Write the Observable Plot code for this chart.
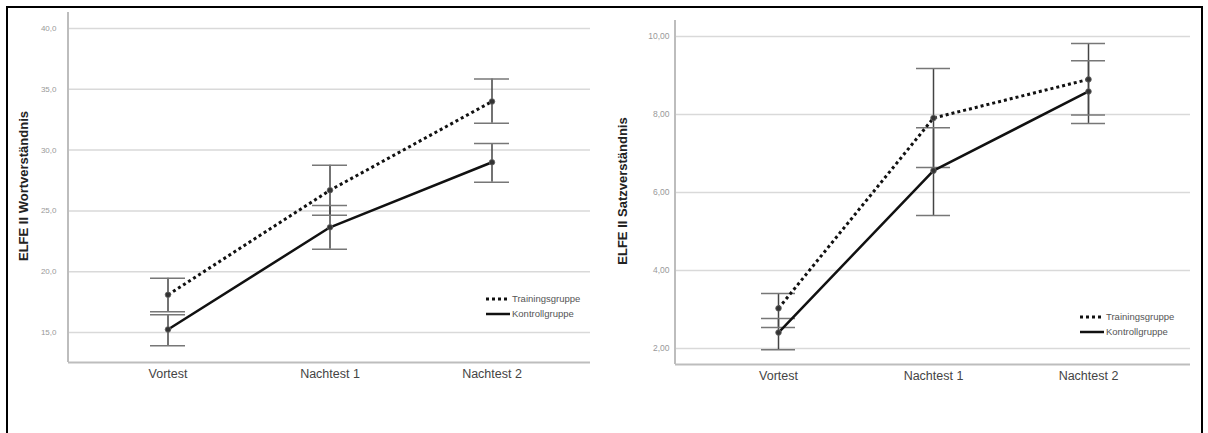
<!DOCTYPE html>
<html>
<head>
<meta charset="utf-8">
<script src="https://cdn.jsdelivr.net/npm/d3@7"></script>
<script src="https://cdn.jsdelivr.net/npm/@observablehq/plot@0.6"></script>
<style>
  html, body { margin: 0; padding: 0; background: #fff; }
  #page { position: relative; width: 1208px; height: 433px; overflow: hidden; font-family: "Liberation Sans", Arial, sans-serif; }
  #border { position: absolute; left: 6px; top: 6px; width: 1197px; height: 440px; border: 2.5px solid #000; box-sizing: border-box; }
  .panel { position: absolute; top: 0; }
  .ylabel { position: absolute; font-weight: bold; font-size: 13px; color: #222; white-space: nowrap; transform: translate(-50%, -50%) rotate(-90deg); }
  .legend { position: absolute; font-size: 9.5px; color: #555; }
  .legend .row { display: flex; align-items: center; height: 15px; }
  .legend svg { margin-right: 2px; }
</style>
</head>
<body>
<div id="page">
  <div id="border"></div>
  <div id="left" class="panel" style="left:0px"></div>
  <div id="right" class="panel" style="left:600px"></div>
  <div class="ylabel" style="left:23px; top:186px">ELFE II Wortverständnis</div>
  <div class="ylabel" style="left:622px; top:191px">ELFE II Satzverständnis</div>
  <div id="legendLeft" class="legend" style="left:486px; top:291px"></div>
  <div id="legendRight" class="legend" style="left:1080px; top:309px"></div>
</div>
<script>
// Messzeitpunkte und Gruppen
const phases = ["Vortest", "Nachtest 1", "Nachtest 2"];
const groups = ["Trainingsgruppe", "Kontrollgruppe"];

// ELFE II Wortverständnis: Mittelwerte mit Fehlerbalken
const wortTraining   = [18.1, 26.7, 34.0];
const wortTrainingLo = [16.7, 24.65, 32.2];
const wortTrainingHi = [19.45, 28.75, 35.85];
const wortKontroll   = [15.25, 23.65, 29.0];
const wortKontrollLo = [13.9, 21.85, 27.35];
const wortKontrollHi = [16.45, 25.45, 30.55];
const wortTicks = [15, 20, 25, 30, 35, 40];

// ELFE II Satzverständnis: Mittelwerte mit Fehlerbalken
const satzTraining   = [3.03, 7.91, 8.90];
const satzTrainingLo = [2.54, 6.64, 7.99];
const satzTrainingHi = [3.41, 9.18, 9.82];
const satzKontroll   = [2.41, 6.56, 8.59];
const satzKontrollLo = [1.97, 5.41, 7.77];
const satzKontrollHi = [2.77, 7.66, 9.38];
const satzTicks = [2, 4, 6, 8, 10];

function buildRows(series) {
  const rows = [];
  series.forEach(([group, mean, lo, hi]) => {
    phases.forEach((phase, i) => rows.push({group, phase, mean: mean[i], lo: lo[i], hi: hi[i]}));
  });
  return rows;
}

const lineStyle = {
  "Trainingsgruppe": {strokeDasharray: "3,3", strokeWidth: 3},
  "Kontrollgruppe": {strokeDasharray: null, strokeWidth: 2.5}
};

function panel(opts) {
  const {rows, ticks, domain, decimals, width, height, marginLeft, marginRight, marginTop, marginBottom,
         paddingInner, paddingOuter, tickFontSize, tickPadding} = opts;
  const fmt = d => d3.format(`.${decimals}f`)(d).replace(".", ",");
  // vertical axis line along the left edge of the frame
  const yAxisLine = () => {
    const line = document.createElementNS("http://www.w3.org/2000/svg", "line");
    line.setAttribute("x1", marginLeft);
    line.setAttribute("x2", marginLeft);
    line.setAttribute("y1", marginTop);
    line.setAttribute("y2", height - marginBottom);
    line.setAttribute("stroke", "#bdbdbd");
    line.setAttribute("stroke-width", 2);
    return line;
  };
  const marks = [
    Plot.ruleY(ticks, {stroke: "#d9d9d9", strokeWidth: 1.5}),
    Plot.ruleY([domain[0]], {stroke: "#bdbdbd", strokeWidth: 2}),
    yAxisLine,
    Plot.ruleX(rows, {x: "phase", y1: "lo", y2: "hi", stroke: "#444", strokeWidth: 1.5}),
    Plot.tickY(rows, {x: "phase", y: "lo", stroke: "#777", strokeWidth: 1.5}),
    Plot.tickY(rows, {x: "phase", y: "hi", stroke: "#777", strokeWidth: 1.5})
  ];
  groups.forEach(g => {
    marks.push(Plot.line(rows.filter(d => d.group === g), {
      x: "phase", y: "mean", stroke: "#111", strokeLinecap: "butt", ...lineStyle[g]
    }));
  });
  marks.push(
    Plot.dot(rows, {x: "phase", y: "mean", r: 2.8, fill: "#333", stroke: "#666", strokeWidth: 0.8}),
    Plot.text(ticks, {y: d => d, text: fmt, frameAnchor: "left", dx: -tickPadding, textAnchor: "end",
                      fill: "#999", fontSize: tickFontSize}),
    Plot.text(phases, {x: d => d, text: d => d, frameAnchor: "bottom", dy: 15,
                       fill: "#444", fontSize: 12.5})
  );
  return Plot.plot({
    width, height, marginLeft, marginRight, marginTop, marginBottom,
    style: {fontFamily: "Liberation Sans, Arial, sans-serif", background: "transparent", overflow: "visible"},
    x: {type: "band", domain: phases, paddingInner, paddingOuter, axis: null},
    y: {domain, axis: null},
    marks
  });
}

document.getElementById("left").append(panel({
  rows: buildRows([
    ["Trainingsgruppe", wortTraining, wortTrainingLo, wortTrainingHi],
    ["Kontrollgruppe", wortKontroll, wortKontrollLo, wortKontrollHi]
  ]),
  ticks: wortTicks, domain: [12.53, 41.32], decimals: 1,
  width: 600, height: 433, marginLeft: 68, marginRight: 10, marginTop: 12, marginBottom: 71,
  paddingInner: 0.784, paddingOuter: 0.503, tickFontSize: 8, tickPadding: 12
}));

document.getElementById("right").append(panel({
  rows: buildRows([
    ["Trainingsgruppe", satzTraining, satzTrainingLo, satzTrainingHi],
    ["Kontrollgruppe", satzKontroll, satzKontrollLo, satzKontrollHi]
  ]),
  ticks: satzTicks, domain: [1.59, 10.41], decimals: 2,
  width: 608, height: 433, marginLeft: 75, marginRight: 18, marginTop: 20, marginBottom: 69,
  paddingInner: 0.781, paddingOuter: 0.546, tickFontSize: 8.5, tickPadding: 6
}));

// Legenden mit Linienmuster je Gruppe
function legend(el) {
  groups.forEach(g => {
    const row = document.createElement("div");
    row.className = "row";
    const s = lineStyle[g];
    row.innerHTML = `<svg width="24" height="6"><line x1="0" x2="24" y1="3" y2="3" stroke="#111"
      stroke-width="${s.strokeWidth}" ${s.strokeDasharray ? `stroke-dasharray="${s.strokeDasharray}"` : ""}/></svg>`;
    const t = document.createElement("span");
    t.textContent = g;
    row.append(t);
    el.append(row);
  });
}
legend(document.getElementById("legendLeft"));
legend(document.getElementById("legendRight"));
</script>
</body>
</html>
